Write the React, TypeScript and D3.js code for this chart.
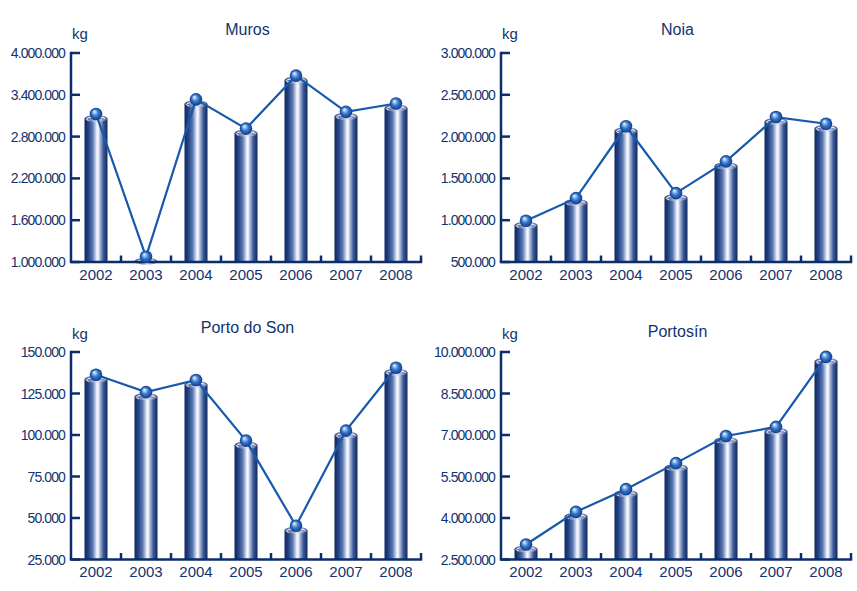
import React from 'react';
import * as d3 from 'd3';

const years = ['2002', '2003', '2004', '2005', '2006', '2007', '2008'];
const murosValues = [3060000, 1010000, 3270000, 2850000, 3610000, 3090000, 3210000];
const noiaValues = [940000, 1210000, 2070000, 1270000, 1650000, 2180000, 2100000];
const portoDoSonValues = [133600, 123100, 130400, 93900, 42600, 99900, 137800];
const portosinValues = [2880000, 4060000, 4880000, 5820000, 6800000, 7130000, 9660000];
const murosTicks = [1000000, 1600000, 2200000, 2800000, 3400000, 4000000];
const noiaTicks = [500000, 1000000, 1500000, 2000000, 2500000, 3000000];
const portoDoSonTicks = [25000, 50000, 75000, 100000, 125000, 150000];
const portosinTicks = [2500000, 4000000, 5500000, 7000000, 8500000, 10000000];
const titles = ['Muros', 'Noia', 'Porto do Son', 'Portosín'];
const unitLabel = 'kg';

const series = [murosValues, noiaValues, portoDoSonValues, portosinValues];
const tickSets = [murosTicks, noiaTicks, portoDoSonTicks, portosinTicks];

const layout = [
  { left: 71, right: 421, top: 53, bottom: 262, titleY: 35, kgY: 39 },
  { left: 501, right: 851, top: 53, bottom: 262, titleY: 35, kgY: 39 },
  { left: 71, right: 421, top: 352, bottom: 559.5, titleY: 333, kgY: 339 },
  { left: 501, right: 851, top: 352, bottom: 559.5, titleY: 337, kgY: 339 },
];

const locale = d3.formatLocale({ decimal: ',', thousands: '.', grouping: [3], currency: ['', '€'] });
const fmt = locale.format(',d');

const AXIS = '#0b2d6b';
const TEXT = '#12336f';
const LINE = '#1659ad';
const FONT = '"Liberation Sans", Arial, sans-serif';

function Panel({ idx }: { idx: number }) {
  const L = layout[idx];
  const values = series[idx];
  const ticks = tickSets[idx];
  const x = d3
    .scaleBand<string>()
    .domain(years)
    .range([L.left, L.right])
    .paddingInner(0.54)
    .paddingOuter(0.27);
  const y = d3
    .scaleLinear()
    .domain([ticks[0], ticks[ticks.length - 1]])
    .range([L.bottom, L.top]);
  const bw = x.bandwidth();
  const cx = (d: string) => (x(d) as number) + bw / 2;
  const sphereOffset = 4.5;
  const pts: [number, number][] = years.map((yr, i) => [cx(yr), y(values[i]) - sphereOffset]);
  const line = d3.line()(pts) as string;
  const step = x.step();
  const boundaries = years.map((_, i) => L.left + step * (i + 1));

  return (
    <g>
      <text x={(L.left + L.right) / 2 + 1.5} y={L.titleY} textAnchor="middle" fontSize={16} fill={TEXT} fontFamily={FONT}>
        {titles[idx]}
      </text>
      <text x={L.left + 1} y={L.kgY} fontSize={15} fill={TEXT} fontFamily={FONT}>
        {unitLabel}
      </text>
      {ticks.map((t) => (
        <g key={t}>
          <text
            x={L.left - 6}
            y={y(t)}
            dy="0.36em"
            textAnchor="end"
            fontSize={14}
            letterSpacing={-0.9}
            fill={TEXT}
            fontFamily={FONT}
          >
            {fmt(t)}
          </text>
          <line x1={L.left} x2={L.left + 9} y1={y(t)} y2={y(t)} stroke={AXIS} strokeWidth={2.5} />
        </g>
      ))}
      {years.map((yr, i) => {
        const top = y(values[i]);
        const h = L.bottom - top;
        return (
          <g key={yr}>
            <rect x={x(yr)} y={top} width={bw} height={Math.max(0, h)} fill="url(#barGrad)" />
            <ellipse cx={cx(yr)} cy={top} rx={bw / 2} ry={3.6} fill="url(#capGrad)" />
            <ellipse cx={cx(yr)} cy={top + 0.6} rx={bw / 2 - 2} ry={2.2} fill="none" stroke="#ffffff" strokeOpacity={0.9} strokeWidth={1} strokeDasharray={`0 ${bw * 0.75} ${bw * 1.6}`} />
          </g>
        );
      })}
      <line x1={L.left} x2={L.left} y1={L.top - 1.2} y2={L.bottom} stroke={AXIS} strokeWidth={2.5} />
      <line x1={L.left - 1.2} x2={L.right + 1.2} y1={L.bottom} y2={L.bottom} stroke={AXIS} strokeWidth={2.5} />
      {boundaries.map((bx, i) => (
        <line key={i} x1={bx} x2={bx} y1={L.bottom} y2={L.bottom - 6.5} stroke={AXIS} strokeWidth={2.5} />
      ))}
      {years.map((yr) => (
        <text key={yr} x={cx(yr)} y={L.bottom + 17.5} textAnchor="middle" fontSize={15} fill={TEXT} fontFamily={FONT}>
          {yr}
        </text>
      ))}
      <path d={line} fill="none" stroke={LINE} strokeWidth={2.2} />
      {pts.map((p, i) => (
        <circle key={i} cx={p[0]} cy={p[1]} r={6.3} fill="url(#sphereGrad)" />
      ))}
    </g>
  );
}

export default function App() {
  return (
    <svg
      width={857}
      height={591}
      viewBox="0 0 857 591"
      style={{ position: 'absolute', left: 0, top: 0, background: '#ffffff' }}
    >
      <defs>
        <linearGradient id="barGrad" x1="0" x2="1" y1="0" y2="0">
          <stop offset="0" stopColor="#0c2860" />
          <stop offset="0.15" stopColor="#1f3f80" />
          <stop offset="0.35" stopColor="#5a76b0" />
          <stop offset="0.52" stopColor="#dfe6f4" />
          <stop offset="0.58" stopColor="#ffffff" />
          <stop offset="0.66" stopColor="#b4c2e0" />
          <stop offset="0.82" stopColor="#3d5a96" />
          <stop offset="1" stopColor="#0c2860" />
        </linearGradient>
        <linearGradient id="capGrad" x1="0" x2="1" y1="0" y2="0">
          <stop offset="0" stopColor="#3a4c86" />
          <stop offset="0.35" stopColor="#8f9cc6" />
          <stop offset="0.55" stopColor="#e6e9f4" />
          <stop offset="0.75" stopColor="#9ea8cc" />
          <stop offset="1" stopColor="#42548c" />
        </linearGradient>
        <radialGradient id="sphereGrad" cx="0.5" cy="0.5" r="0.5" fx="0.35" fy="0.3">
          <stop offset="0" stopColor="#ffffff" />
          <stop offset="0.2" stopColor="#a9c8ee" />
          <stop offset="0.55" stopColor="#3474c8" />
          <stop offset="1" stopColor="#0d3c8c" />
        </radialGradient>
      </defs>
      {layout.map((_, i) => (
        <Panel key={i} idx={i} />
      ))}
    </svg>
  );
}
